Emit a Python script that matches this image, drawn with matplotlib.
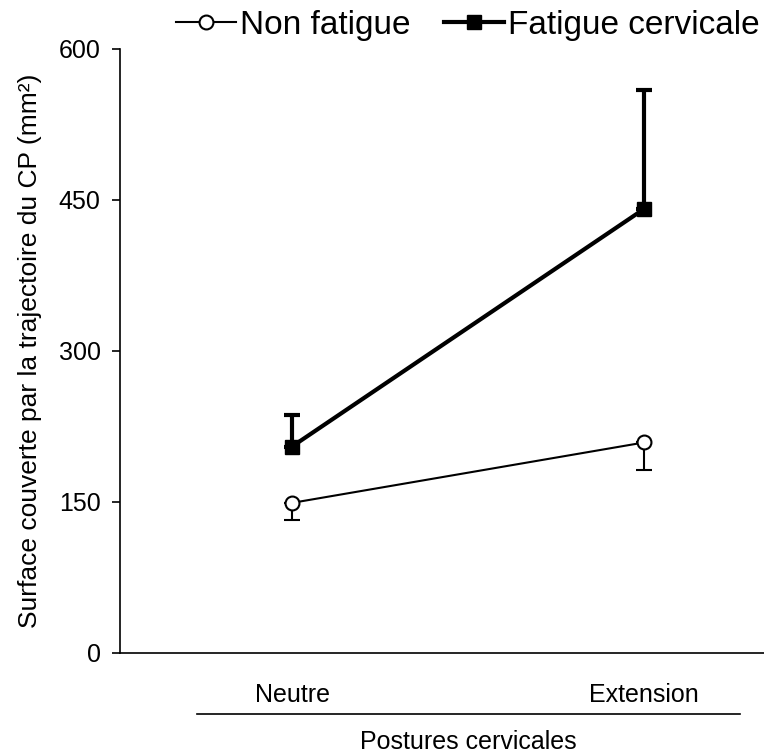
import matplotlib.pyplot as plt

plt.rcParams['font.family'] = ['Liberation Sans', 'DejaVu Sans']

postures = ["Neutre", "Extension"]
non_fatigue = [149, 209]
non_fatigue_err = [17, 27]
fatigue = [205, 441]
fatigue_err = [31, 118]

x = list(range(len(postures)))

fig = plt.figure(figsize=(7.64, 7.53), dpi=100)
ax = fig.add_axes([0.157, 0.133, 0.843, 0.802])

# non fatigue: barres d'erreur vers le bas
ax.errorbar(x, non_fatigue, yerr=[non_fatigue_err, [0, 0]], color='black',
            lw=1.5, marker='o', ms=10, mfc='white', mec='black', mew=1.5,
            capsize=6, capthick=1.5, elinewidth=1.5, label="Non fatigue", zorder=3)
# fatigue cervicale: barres d'erreur vers le haut
ax.errorbar(x, fatigue, yerr=[[0, 0], fatigue_err], color='black',
            lw=3, marker='s', ms=10, mfc='black', mec='black',
            capsize=6, capthick=3, elinewidth=3, label="Fatigue cervicale", zorder=3)

ax.set_xlim(-0.489, 1.341)
ax.set_ylim(0, 600)
ax.set_yticks([0, 150, 300, 450, 600])
ax.set_xticks(x)
ax.set_xticklabels(postures)
ax.tick_params(axis='x', length=0, pad=22, labelsize=18)
ax.tick_params(axis='y', length=6, width=1.2, labelsize=18, direction='out', pad=8)
for s in ['top', 'right']:
    ax.spines[s].set_visible(False)
ax.spines['left'].set_linewidth(1.2)
ax.spines['bottom'].set_linewidth(1.2)

ax.plot([0.12, 0.963], [-0.101, -0.101], color='black', lw=1.2,
        transform=ax.transAxes, clip_on=False)
ax.text(0.541, -0.147, "Postures cervicales", transform=ax.transAxes,
        ha='center', va='center', fontsize=18)
ax.set_ylabel("Surface couverte par la trajectoire du CP (mm²)", fontsize=19, labelpad=12)

h, l = ax.get_legend_handles_labels()
h = [hh[0] for hh in h]
fig.legend(h, l, loc='center', bbox_to_anchor=(0.612, 0.966), ncol=2, frameon=False,
           fontsize=24, handlelength=1.8, handletextpad=0.12, columnspacing=1.0,
           borderaxespad=0, borderpad=0)

fig.savefig("out.png", dpi=100)
